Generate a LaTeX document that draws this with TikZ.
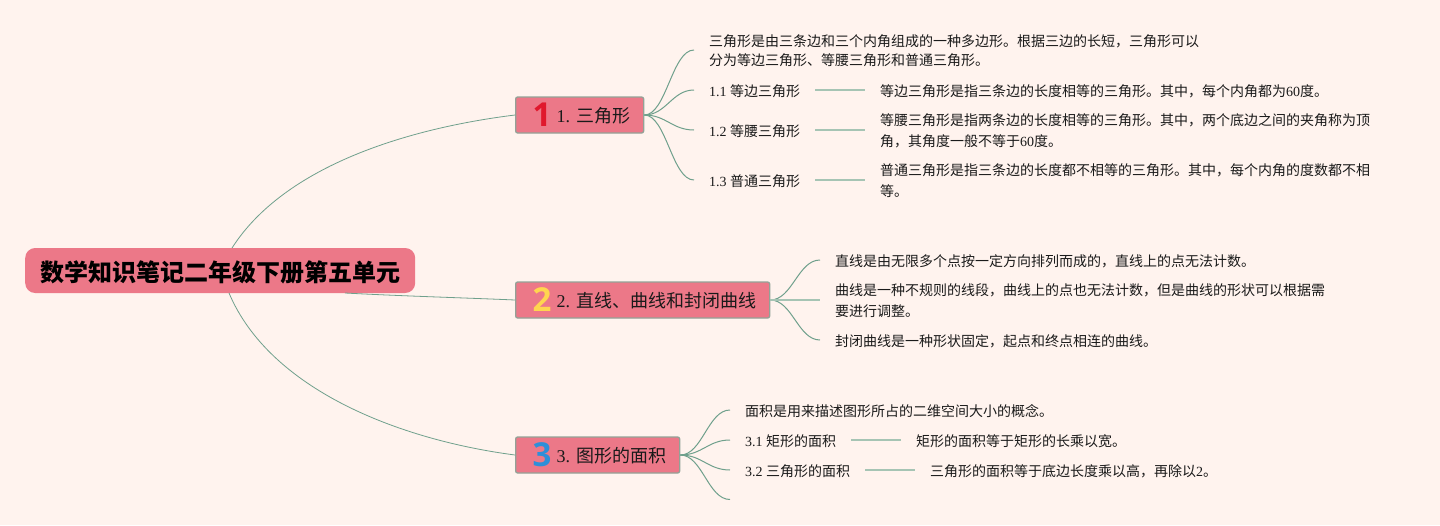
\documentclass[tikz,border=0pt]{standalone}
\usepackage{fontspec}
\setmainfont{Noto Sans CJK SC}
\newfontfamily\latfont{Liberation Serif}
\newfontfamily\iconfont{Open Sans}
\newcommand{\lat}[1]{{\latfont #1}}
\lineskiplimit=-100pt
\definecolor{bgc}{HTML}{FFF3EE}
\definecolor{topicc}{HTML}{EC7888}
\definecolor{edgec}{HTML}{93A297}
\definecolor{linkc}{HTML}{6FA08C}
\definecolor{linkl}{HTML}{A6C4B4}
\definecolor{inkc}{HTML}{1A1A1A}
\definecolor{iconr}{HTML}{E0182D}
\definecolor{icony}{HTML}{FFD54F}
\definecolor{iconb}{HTML}{2E8FD8}
\tikzset{
  x=1pt,y=-1pt,
  leaf/.style={anchor=west,inner xsep=15pt,inner ysep=0pt,align=left,text=inkc,text depth=0pt,
    font=\fontsize{14}{20.5}\selectfont},
  topicbox/.style={anchor=west,draw=edgec,line width=1.3pt,fill=topicc,rounded corners=2pt,
    inner sep=0pt,minimum height=36pt,text=inkc,font=\fontsize{18}{20}\selectfont},
  rootbox/.style={anchor=west,fill=topicc,rounded corners=10pt,inner sep=0pt,
    minimum width=390pt,minimum height=45pt,text=black,font=\fontsize{24}{26}\selectfont\bfseries},
  icon/.style={inner sep=0pt,font=\fontsize{33}{33}\selectfont\iconfont\bfseries},
  branch/.style={draw=linkc,line width=0.8pt},
  twig/.style={draw=linkc,line width=1pt},
  stem/.style={draw=linkl,line width=1.5pt},
}
\newcommand{\topictext}[2]{\makebox[#1pt][l]{\hspace{41pt}\raisebox{-7.6pt}[0pt][0pt]{#2}}}
\newcommand{\leafline}[1]{\raisebox{-1pt}{#1}}
\begin{document}
\begin{tikzpicture}
\useasboundingbox[fill=bgc] (0,0) rectangle (1440,525);
% nodes
\node[rootbox] (root) at (25,270.5) {\raisebox{-10.5pt}[0pt][0pt]{数学知识笔记二年级下册第五单元}};
\node[topicbox] (m1) at (515,115) {\topictext{128}{\lat{1. }三角形}};
\node[topicbox] (m2) at (515,300) {\topictext{254}{\lat{2. }直线、曲线和封闭曲线}};
\node[topicbox] (m3) at (515,455) {\topictext{164}{\lat{3. }图形的面积}};
\node[icon,text=iconr] (i1) at (542,115) {1};
\node[icon,text=icony] (i2) at (542,300) {2};
\node[icon,text=iconb] (i3) at (542,455) {3};
% group 1
\node[leaf] (a0) at (694,50) {\leafline{三角形是由三条边和三个内角组成的一种多边形。根据三边的长短，三角形可以}\\分为等边三角形、等腰三角形和普通三角形。};
\node[leaf] (a1) at (694,90) {\leafline{\lat{1.1 }等边三角形}};
\node[leaf] (a2) at (694,130) {\leafline{\lat{1.2 }等腰三角形}};
\node[leaf] (a3) at (694,180) {\leafline{\lat{1.3 }普通三角形}};
\node[leaf] (a1x) at (865,90) {\leafline{等边三角形是指三条边的长度相等的三角形。其中，每个内角都为\lat{60}度。}};
\node[leaf] (a2x) at (865,130) {等腰三角形是指两条边的长度相等的三角形。其中，两个底边之间的夹角称为顶\\角，其角度一般不等于\lat{60}度。};
\node[leaf] (a3x) at (865,180) {普通三角形是指三条边的长度都不相等的三角形。其中，每个内角的度数都不相\\等。};
% group 2
\node[leaf] (b0) at (820,260) {\leafline{直线是由无限多个点按一定方向排列而成的，直线上的点无法计数。}};
\node[leaf] (b1) at (820,300) {曲线是一种不规则的线段，曲线上的点也无法计数，但是曲线的形状可以根据需\\要进行调整。};
\node[leaf] (b2) at (820,340) {\leafline{封闭曲线是一种形状固定，起点和终点相连的曲线。}};
% group 3
\node[leaf] (c0) at (730,410) {\leafline{面积是用来描述图形所占的二维空间大小的概念。}};
\node[leaf] (c1) at (730,440) {\leafline{\lat{3.1 }矩形的面积}};
\node[leaf] (c2) at (730,470) {\leafline{\lat{3.2 }三角形的面积}};
\coordinate (c3) at (730,499.5);
\node[leaf] (c1x) at (901,440) {\leafline{矩形的面积等于矩形的长乘以宽。}};
\node[leaf] (c2x) at (915,470) {\leafline{三角形的面积等于底边长度乘以高，再除以\lat{2}。}};
% connectors
\coordinate (r1) at (232,248);
\coordinate (r2) at (345,293);
\coordinate (r3) at (229,293);
\draw[branch] (r1) .. controls (285,165) and (410,128) .. (m1.west);
\draw[branch] (r2) .. controls (400,296) and (470,298) .. (m2.west);
\draw[branch] (r3) .. controls (270,390) and (400,440) .. (m3.west);
\foreach \t in {a0,a1,a2,a3}{\draw[twig] (m1.east) .. controls +(22,0) and +(-22,0) .. (\t.west);}
\foreach \t in {b0,b2}{\draw[twig] (m2.east) .. controls +(22,0) and +(-22,0) .. (\t.west);}
\draw[stem] (m2.east) -- (b1.west);
\foreach \t in {c0,c1,c2}{\draw[twig] (m3.east) .. controls +(22,0) and +(-22,0) .. (\t.west);}
\draw[twig] (m3.east) .. controls +(22,0) and +(-22,0) .. (c3);
\draw[stem] (a1.east) -- (a1x.west);
\draw[stem] (a2.east) -- (a2x.west);
\draw[stem] (a3.east) -- (a3x.west);
\draw[stem] (c1.east) -- (c1x.west);
\draw[stem] (c2.east) -- (c2x.west);
\end{tikzpicture}
\end{document}
